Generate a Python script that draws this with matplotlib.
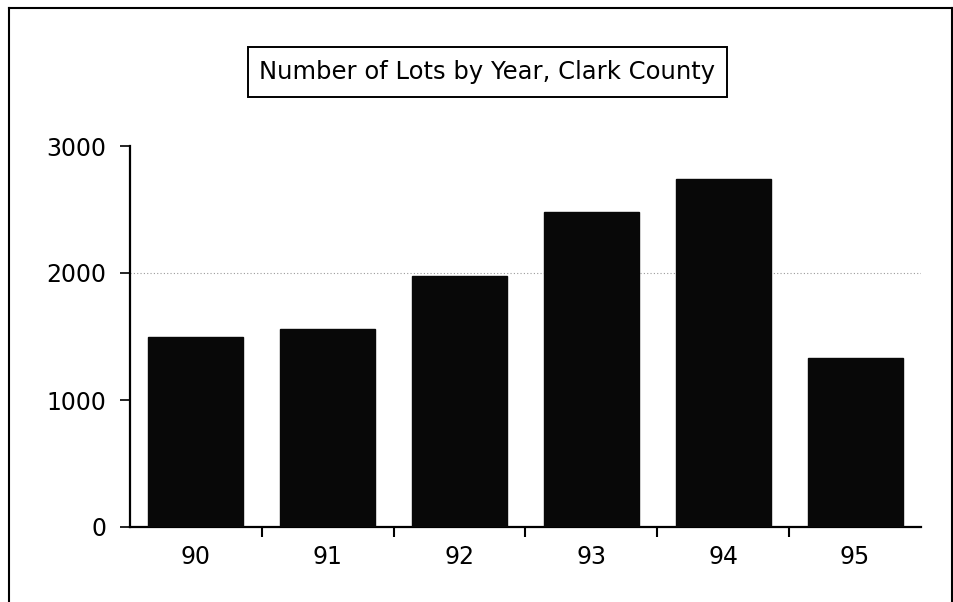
import matplotlib
matplotlib.use("Agg")
import matplotlib.pyplot as plt
from matplotlib.lines import Line2D
from matplotlib.patches import Rectangle

years = ["90", "91", "92", "93", "94", "95"]
lots = [1500, 1560, 1980, 2480, 2740, 1330]
y_ticks = [0, 1000, 2000, 3000]

plt.rcParams["font.family"] = ["DejaVu Sans"]

W, H = 954, 602
fig = plt.figure(figsize=(W / 100, H / 100), dpi=100)
ax = fig.add_axes([130 / W, 1 - 527 / H, (921 - 130) / W, (527 - 146) / H])

x = range(len(years))
ax.bar(x, lots, width=0.72, color="#080808", edgecolor="#080808", zorder=3)

ax.set_xlim(-0.5, len(years) - 0.5)
ax.set_ylim(0, 3000)
ax.set_yticks(y_ticks)
ax.set_yticklabels([str(v) for v in y_ticks], fontsize=17)
ax.set_xticks([i + 0.5 for i in range(len(years) - 1)])
ax.set_xticklabels([])
ax.set_xticks(list(x), minor=True)
ax.set_xticklabels(years, minor=True, fontsize=17)
ax.tick_params(axis="x", which="minor", length=0, pad=13)
ax.tick_params(axis="x", which="major", direction="out", length=7, width=1.5)
ax.tick_params(axis="y", direction="out", length=7, width=1.2, pad=10)

ax.axhline(2000, color="#9a9a9a", linestyle=(0, (1, 2)), linewidth=0.8, zorder=1)

for side in ("top", "right"):
    ax.spines[side].set_visible(False)
for side in ("left", "bottom"):
    ax.spines[side].set_linewidth(1.6)
    ax.spines[side].set_color("black")

# title in a framed box
fig.add_artist(Rectangle((248 / W, 1 - 97 / H), (727 - 248) / W, 50 / H,
                         transform=fig.transFigure, facecolor="white",
                         edgecolor="black", linewidth=1.4))
fig.text(487.5 / W, 1 - 72 / H, "Number of Lots by Year, Clark County",
         ha="center", va="center", fontsize=17.5)

# outer frame (left, top, right edges)
frame = dict(transform=fig.transFigure, color="black", linewidth=1.5)
fig.add_artist(Line2D([9 / W, 9 / W], [0, 1 - 8 / H], **frame))
fig.add_artist(Line2D([9 / W, 952 / W], [1 - 8 / H, 1 - 8 / H], **frame))
fig.add_artist(Line2D([952 / W, 952 / W], [0, 1 - 8 / H], **frame))

fig.savefig("out.png", dpi=100)
